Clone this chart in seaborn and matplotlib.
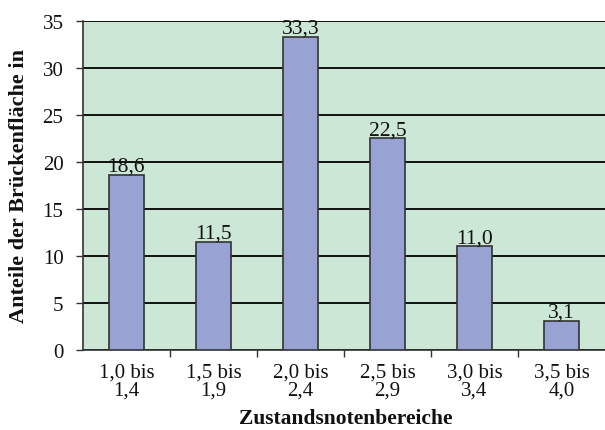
import matplotlib
matplotlib.use("Agg")
import matplotlib.pyplot as plt
import seaborn as sns
import numpy as np

categories = ["1,0 bis\n1,4", "1,5 bis\n1,9", "2,0 bis\n2,4", "2,5 bis\n2,9", "3,0 bis\n3,4", "3,5 bis\n4,0"]
values = [18.6, 11.5, 33.3, 22.5, 11.0, 3.1]
value_labels = ["18,6", "11,5", "33,3", "22,5", "11,0", "3,1"]

sns.set_style("white")
plt.rcParams['font.family'] = ['Liberation Serif', 'DejaVu Serif']
plt.rcParams['text.color'] = '#111111'
plt.rcParams['axes.labelcolor'] = '#111111'
plt.rcParams['xtick.labelcolor'] = '#111111'
plt.rcParams['ytick.labelcolor'] = '#111111'

fig = plt.figure(figsize=(6.05, 4.31), dpi=100)
ax = fig.add_axes([0.137, 0.186, 0.868, 0.763])
ax.set_facecolor("#cce7d5")

sns.barplot(x=categories, y=values, color="#99a3d3", width=0.4,
            edgecolor="#333333", linewidth=1.2, saturation=1, ax=ax, zorder=3)

for i, (v, lab) in enumerate(zip(values, value_labels)):
    ax.text(i, v - 0.1, lab, ha="center", va="bottom", fontsize=15.5, zorder=4)

ax.set_ylim(0, 35)
ax.set_xlim(-0.5, 5.535)
ax.set_yticks(np.arange(0, 36, 5))
ax.yaxis.grid(True, color="black", linewidth=1.3, zorder=1)
ax.set_axisbelow(True)

# ticks between categories on x
ax.set_xticks(np.arange(0.5, 5, 1), minor=True)
ax.tick_params(axis="x", which="major", length=0, labelsize=15, pad=9)
ax.tick_params(axis="x", which="minor", length=5, width=1, color="#333333", direction="out", bottom=True)
ax.tick_params(axis="y", length=5, width=1, color="#333333", direction="out", labelsize=15, left=True, pad=9)
for lab in ax.get_xticklabels():
    lab.set_linespacing(0.92)

for s in ["top", "right"]:
    ax.spines[s].set_visible(False)
for s in ["left", "bottom"]:
    ax.spines[s].set_color("#333333")
    ax.spines[s].set_linewidth(1.2)

ax.set_xlabel("Zustandsnotenbereiche", fontsize=15.5, fontweight="bold", labelpad=6)
ax.set_ylabel("Anteile der Brückenfläche in", fontsize=16, fontweight="bold", labelpad=10)

fig.savefig("out.png", dpi=100)
